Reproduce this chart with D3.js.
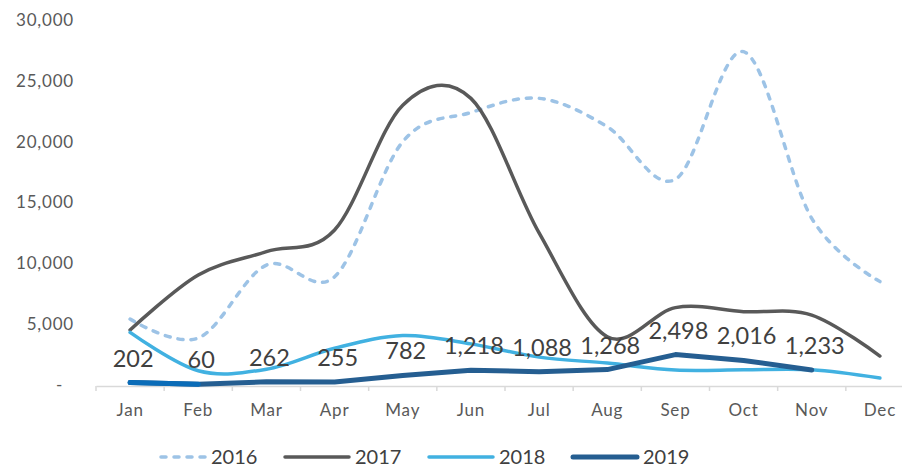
<!DOCTYPE html>
<html>
<head>
<meta charset="utf-8">
<script src="https://cdn.jsdelivr.net/npm/d3@7"></script>
<style>
  body { margin: 0; background: #fff; }
  text { font-family: Lato, "Open Sans", sans-serif; }
</style>
</head>
<body>
<div id="chart"></div>
<script>
"use strict";

// == DATA ==
var months = ["Jan", "Feb", "Mar", "Apr", "May", "Jun", "Jul", "Aug", "Sep", "Oct", "Nov", "Dec"];
var values2016 = [5420, 3860, 9860, 8900, 20000, 22400, 23560, 21230, 16900, 27400, 13700, 8500];
var values2017 = [4520, 9040, 10960, 12740, 23000, 23560, 12500, 3970, 6360, 6030, 5750, 2380];
var values2018 = [4320, 1170, 1300, 3020, 4060, 3380, 2290, 1800, 1230, 1250, 1250, 570];
var values2019 = [202, 60, 262, 255, 782, 1218, 1088, 1268, 2498, 2016, 1233];
var yTicks = [0, 5000, 10000, 15000, 20000, 25000, 30000];
var seriesNames = ["2016", "2017", "2018", "2019"];

// == BOILERPLATE ==
var width = 902, height = 467;

var svg = d3.select("#chart")
  .append("svg")
  .attr("width", width)
  .attr("height", height);

var x = d3.scaleBand()
  .domain(months)
  .range([96, 914]);

var y = d3.scaleLinear()
  .domain([0, 30000])
  .range([385, 20]);

var cx = function (i) { return x(months[i]) + x.bandwidth() / 2; };

// == AXES ==
var yAxis = svg.append("g")
  .attr("transform", "translate(74,0)")
  .call(d3.axisLeft(y)
    .tickValues(yTicks)
    .tickSize(0)
    .tickPadding(0)
    .tickFormat(function (d) { return d === 0 ? "-" : d3.format(",")(d); }));
yAxis.select(".domain").remove();
yAxis.selectAll("text")
  .attr("fill", "#595959")
  .style("font-size", "17px")
  .style("letter-spacing", "0.8px")
  .attr("dx", function (d) { return d === 0 ? -11 : 0; });

var xAxis = svg.append("g")
  .attr("transform", "translate(0,386)")
  .call(d3.axisBottom(x).tickSize(0).tickPadding(18));
xAxis.select(".domain")
  .attr("stroke", "#d9d9d9")
  .attr("stroke-width", 1.5);
xAxis.selectAll("text")
  .attr("fill", "#595959")
  .style("font-size", "17px")
  .style("letter-spacing", "0.8px");

// tick marks sit on the band edges
svg.append("g")
  .selectAll("line")
  .data(d3.range(months.length + 1))
  .enter()
  .append("line")
  .attr("x1", function (i) { return 96 + i * x.bandwidth(); })
  .attr("x2", function (i) { return 96 + i * x.bandwidth(); })
  .attr("y1", 386)
  .attr("y2", 391)
  .attr("stroke", "#d9d9d9")
  .attr("stroke-width", 1.5);

// == LINES ==
var smooth = d3.line()
  .x(function (d, i) { return cx(i); })
  .y(function (d) { return y(d); })
  .curve(d3.curveCardinal.tension(0));

var straight = d3.line()
  .x(function (d, i) { return cx(i); })
  .y(function (d) { return y(d); });

var styles = [
  { color: "#9dc3e6", width: 3.5, dash: "5,8" },
  { color: "#595959", width: 3.5, dash: null },
  { color: "#41b1e1", width: 3.5, dash: null },
  { color: "#255e91", width: 5, dash: null }
];

svg.append("path")
  .attr("d", smooth(values2016))
  .attr("fill", "none")
  .attr("stroke", styles[0].color)
  .attr("stroke-width", styles[0].width)
  .attr("stroke-dasharray", styles[0].dash)
  .attr("stroke-linecap", "round");

svg.append("path")
  .attr("d", smooth(values2017))
  .attr("fill", "none")
  .attr("stroke", styles[1].color)
  .attr("stroke-width", styles[1].width)
  .attr("stroke-linecap", "round");

svg.append("path")
  .attr("d", smooth(values2018))
  .attr("fill", "none")
  .attr("stroke", styles[2].color)
  .attr("stroke-width", styles[2].width)
  .attr("stroke-linecap", "round");

svg.append("path")
  .attr("d", straight(values2019))
  .attr("fill", "none")
  .attr("stroke", styles[3].color)
  .attr("stroke-width", styles[3].width)
  .attr("stroke-linecap", "round")
  .attr("stroke-linejoin", "round");

// first segment of 2019 is a brighter blue
svg.append("path")
  .attr("d", straight(values2019.slice(0, 2)))
  .attr("fill", "none")
  .attr("stroke", "#0a6cb8")
  .attr("stroke-width", styles[3].width)
  .attr("stroke-linecap", "round");

// == DATA LABELS ==
svg.append("g")
  .selectAll("text")
  .data(values2019)
  .enter()
  .append("text")
  .attr("x", function (d, i) { return cx(i) + 3; })
  .attr("y", function (d) { return y(d) - 16; })
  .attr("text-anchor", "middle")
  .attr("fill", "#404040")
  .style("font-size", "23.5px")
  .text(function (d) { return d3.format(",")(d); });

// == LEGEND ==
var legend = svg.append("g")
  .selectAll("g")
  .data(seriesNames)
  .enter()
  .append("g")
  .attr("transform", function (d, i) { return "translate(" + (141 + i * 144) + ",457)"; });

legend.append("line")
  .attr("x1", function (d, i) { return i === 0 ? 20 : 0; })
  .attr("x2", 64)
  .attr("stroke", function (d, i) { return styles[i].color; })
  .attr("stroke-width", function (d, i) { return styles[i].width; })
  .attr("stroke-dasharray", function (d, i) { return styles[i].dash; })
  .attr("stroke-linecap", "round");

legend.append("text")
  .attr("x", 70)
  .attr("y", 7)
  .attr("fill", "#404040")
  .style("font-size", "20px")
  .text(function (d) { return d; });
</script>
</body>
</html>
